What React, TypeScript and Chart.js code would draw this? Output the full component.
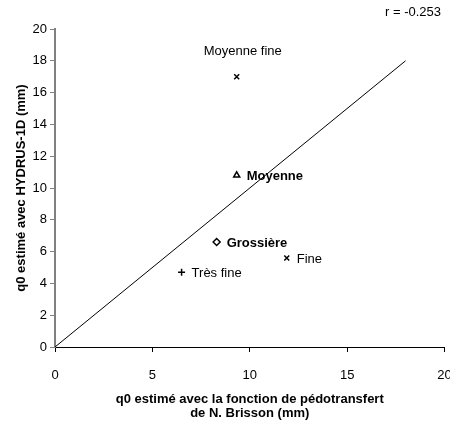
import React, { useEffect, useRef } from "react";
import { Chart, registerables } from "chart.js";

Chart.register(...registerables);

const soilNames = ["Moyenne fine", "Moyenne", "Grossière", "Fine", "Très fine"];
const pedoValues = [9.33, 9.33, 8.3, 11.9, 6.5];
const hydrusValues = [17.0, 10.8, 6.6, 5.6, 4.7];
const markerStyles = ["crossRot", "triangle", "rectRot", "crossRot", "cross"];
const lineX = [0, 18];
const lineY = [0, 18];
const correlationText = "r = -0.253";
const xTitle = ["q0 estimé avec la fonction de pédotransfert", "de N. Brisson (mm)"];
const yTitle = "q0 estimé avec HYDRUS-1D (mm)";

const FONT = "'Liberation Sans', Arial, sans-serif";

const labelPlugin = {
  id: "pointLabels",
  afterDatasetsDraw(chart: any) {
    const ctx = chart.ctx;
    const xs = chart.scales.x;
    const ys = chart.scales.y;
    ctx.save();
    ctx.fillStyle = "#000";
    ctx.textBaseline = "middle";
    soilNames.forEach((name, i) => {
      const px = xs.getPixelForValue(pedoValues[i]);
      const py = ys.getPixelForValue(hydrusValues[i]);
      const bold = name === "Moyenne" || name === "Grossière";
      ctx.font = (bold ? "bold " : "") + "13px " + FONT;
      if (name === "Moyenne fine") {
        ctx.textAlign = "center";
        ctx.fillText(name, px + 6, py - 25);
      } else {
        ctx.textAlign = "left";
        ctx.fillText(name, px + 10, py + 1);
      }
    });
    ctx.font = "13px " + FONT;
    ctx.textAlign = "left";
    ctx.fillText(correlationText, 385, 12);
    ctx.restore();
  },
};

export default function App() {
  const ref = useRef<HTMLCanvasElement>(null);
  useEffect(() => {
    if (!ref.current) return;
    const chart = new Chart(ref.current, {
      type: "scatter",
      data: {
        datasets: [
          {
            type: "line",
            data: lineX.map((x, i) => ({ x, y: lineY[i] })),
            borderColor: "#000",
            borderWidth: 1,
            pointRadius: 0,
            fill: false,
          } as any,
          {
            data: pedoValues.map((x, i) => ({ x, y: hydrusValues[i] })),
            pointStyle: markerStyles as any,
            pointRadius: 3.5,
            borderColor: "#000",
            backgroundColor: "#fff",
            borderWidth: 1.5,
          },
        ],
      },
      options: {
        animation: false,
        responsive: true,
        maintainAspectRatio: false,
        layout: { padding: { top: 29, right: 5, left: 0, bottom: 0 } },
        plugins: { legend: { display: false }, tooltip: { enabled: false } },
        scales: {
          x: {
            type: "linear",
            min: 0,
            max: 20,
            ticks: { stepSize: 5, color: "#000", font: { family: FONT, size: 13 }, padding: 16 },
            grid: { display: true, drawOnChartArea: false, drawTicks: true, tickLength: 5, color: "#000" },
            border: { color: "#000", width: 1 },
            title: {
              display: true,
              text: xTitle,
              color: "#000",
              font: { family: FONT, size: 13, weight: "bold", lineHeight: 1.1 },
              padding: { top: 0, bottom: 0 },
            },
            afterFit(scale: any) {
              scale.height = 74;
              scale.paddingLeft = 0;
              scale.paddingRight = 0;
            },
          },
          y: {
            type: "linear",
            min: 0,
            max: 20,
            ticks: { stepSize: 2, color: "#000", font: { family: FONT, size: 13 }, padding: 3 },
            grid: { display: true, drawOnChartArea: false, drawTicks: true, tickLength: 5, color: "#808080" },
            border: { color: "#808080", width: 2 },
            title: {
              display: true,
              text: yTitle,
              color: "#000",
              font: { family: FONT, size: 13, weight: "bold" },
              padding: { top: 14, bottom: 0 },
            },
            afterFit(scale: any) {
              scale.width = 55;
              scale.paddingTop = 0;
              scale.paddingBottom = 0;
            },
          },
        },
      },
      plugins: [labelPlugin],
    });
    return () => chart.destroy();
  }, []);
  return (
    <div style={{ position: "fixed", left: 0, top: 0, width: 450, height: 421, background: "#fff" }}>
      <canvas ref={ref} />
    </div>
  );
}
